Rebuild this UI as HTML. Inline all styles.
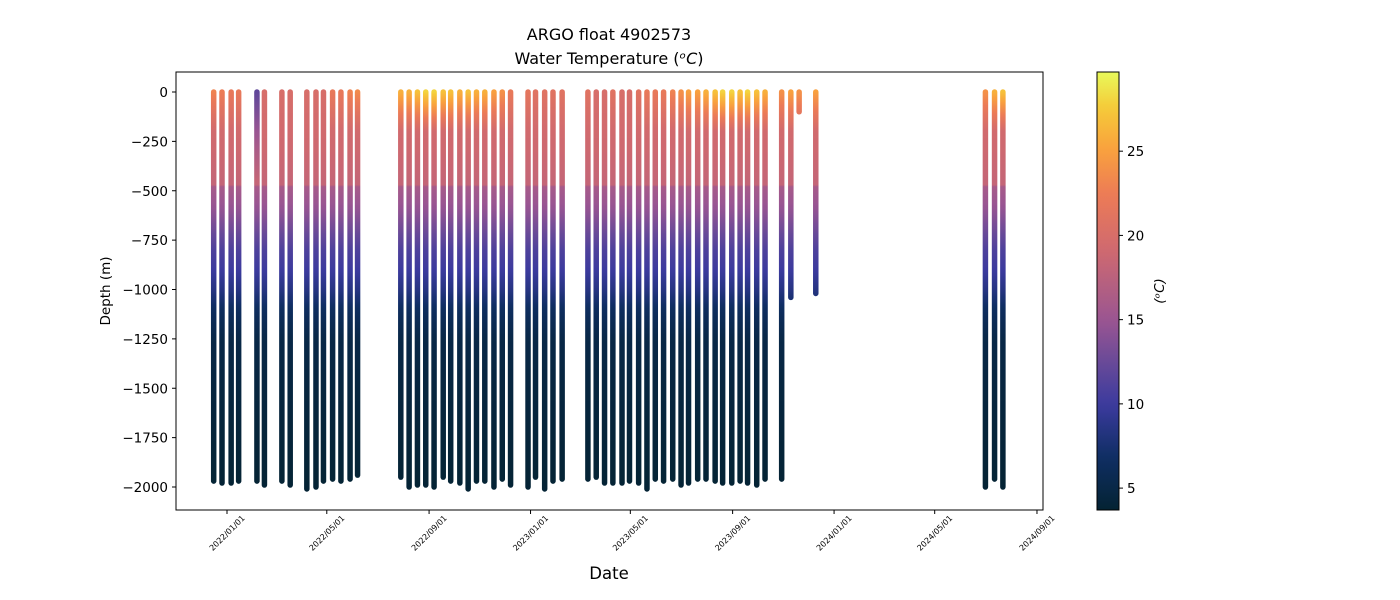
<!DOCTYPE html>
<html><head><meta charset="utf-8"><style>
body{margin:0;background:#fff;}
svg{display:block;font-family:"DejaVu Sans","Liberation Sans",sans-serif;}
</style></head><body>
<svg id="chart" width="1400" height="600" viewBox="0 0 1400 600" xmlns="http://www.w3.org/2000/svg">
<defs id="defs"></defs>
<text x="609" y="40" text-anchor="middle" font-size="16">ARGO float 4902573</text>
<text x="609" y="64" text-anchor="middle" font-size="16">Water Temperature (<tspan font-style="italic">ᵒC</tspan>)</text>
<g id="plot"></g>
<rect x="176" y="72" width="867" height="438" fill="none" stroke="#000" stroke-width="1"/>
<g id="yaxis"></g>
<g id="xaxis"></g>
<text transform="translate(110,291) rotate(-90)" text-anchor="middle" font-size="13.5">Depth (m)</text>
<text x="609" y="579" text-anchor="middle" font-size="16.5">Date</text>
<g id="cbar"></g>
<text transform="translate(1164,291) rotate(-90)" text-anchor="middle" font-size="13.5" font-style="italic">(ᵒC)</text>
</svg>
<script>
const profileDates=["2021-12-16","2021-12-26","2022-01-06","2022-01-15","2022-02-06","2022-02-15","2022-03-08","2022-03-18","2022-04-07","2022-04-18","2022-04-27","2022-05-08","2022-05-18","2022-05-29","2022-06-07","2022-07-29","2022-08-08","2022-08-18","2022-08-28","2022-09-07","2022-09-18","2022-09-27","2022-10-08","2022-10-18","2022-10-28","2022-11-07","2022-11-18","2022-11-28","2022-12-08","2022-12-29","2023-01-07","2023-01-18","2023-01-28","2023-02-08","2023-03-11","2023-03-21","2023-03-31","2023-04-10","2023-04-21","2023-04-30","2023-05-11","2023-05-21","2023-05-31","2023-06-10","2023-06-21","2023-07-01","2023-07-10","2023-07-21","2023-07-31","2023-08-11","2023-08-20","2023-08-31","2023-09-10","2023-09-19","2023-09-30","2023-10-10","2023-10-30","2023-11-10","2023-11-20","2023-12-10","2024-07-01","2024-07-12","2024-07-22"];
const maxDepths=[1970,1980,1980,1970,1970,1990,1970,1990,2010,2000,1970,1960,1970,1960,1940,1950,2000,1990,1990,2000,1950,1970,1980,2010,1970,1970,2000,1960,1990,2000,1950,2010,1970,1960,1960,1950,1980,1980,1980,1970,1980,2010,1960,1970,1960,1990,1980,1960,1960,1970,1980,1980,1970,1980,1990,1960,1960,1040,100,1020,2000,1960,2000];
const surfaceTemps=[23,22.5,22,22,12,20,20,20,20,20,20,22,22,23,23.5,26,26,27,28,28,27,27,26,27,26,26,25,24,22,21.5,21,21,21,21,21,20,20,21,20,20,21,22,22,22,23,24,25,25,26,27,28,28,27,28,27,26,24,25,24,25,24,26,27,25];
const baseDepths=[0,100,300,470,480,600,800,900,1000,1100,1250,1500,2000];
const baseTemps=[20,19.6,19,18.2,16,14.5,11,10,8.5,6.5,5,4.5,3.8];
const yTicks=[0,-250,-500,-750,-1000,-1250,-1500,-1750,-2000];
const xTicks=["2022/01/01","2022/05/01","2022/09/01","2023/01/01","2023/05/01","2023/09/01","2024/01/01","2024/05/01","2024/09/01"];
const cbTicks=[5,10,15,20,25];
const tMin=3.7,tMax=29.7;

const NS="http://www.w3.org/2000/svg";
function el(tag,attrs,parent){const e=document.createElementNS(NS,tag);for(const k in attrs)e.setAttribute(k,attrs[k]);parent.appendChild(e);return e;}
const day0=Date.UTC(2022,0,1);
function toDays(s){const p=s.split(/[-\/]/).map(Number);return (Date.UTC(p[0],p[1]-1,p[2])-day0)/86400000;}
const xScale=d=>227+toDays(d)*0.8316;
const yScale=v=>92-v*0.1975;
const cbScale=t=>510-(t-tMin)/(tMax-tMin)*438;
const cmap=[[0,"#042333"],[0.12,"#0f2e63"],[0.24,"#3b3a9e"],[0.34,"#6a4a98"],[0.43,"#995592"],[0.6,"#d16a6e"],[0.72,"#ec7b56"],[0.82,"#f9a03e"],[0.92,"#f5cb39"],[1,"#e8fa5b"]];
function hex(c){return [1,3,5].map(i=>parseInt(c.substr(i,2),16));}
function color(t){let f=Math.max(0,Math.min(1,(t-tMin)/(tMax-tMin)));for(let i=1;i<cmap.length;i++){if(f<=cmap[i][0]){const a=cmap[i-1],b=cmap[i];const u=(f-a[0])/(b[0]-a[0]);const ca=hex(a[1]),cb=hex(b[1]);return "rgb("+ca.map((v,j)=>Math.round(v+(cb[j]-v)*u)).join(",")+")";}}return cmap[cmap.length-1][1];}
function baseT(d){for(let i=1;i<baseDepths.length;i++){if(d<=baseDepths[i]){const u=(d-baseDepths[i-1])/(baseDepths[i]-baseDepths[i-1]);return baseTemps[i-1]+(baseTemps[i]-baseTemps[i-1])*u;}}return baseTemps[baseTemps.length-1];}
function tempAt(d,t0){const L=t0<18?450:200;return baseT(d)+(t0-baseTemps[0])*Math.max(0,1-d/L);}

const defs=document.getElementById('defs'),plot=document.getElementById('plot');
profileDates.forEach((dt,i)=>{
  const x=xScale(dt),md=maxDepths[i];
  const g=el('linearGradient',{id:'g'+i,gradientUnits:'userSpaceOnUse',x1:0,y1:yScale(0),x2:0,y2:yScale(-md)},defs);
  for(let d=0;d<=md;d+=10){el('stop',{offset:(d/md).toFixed(4),'stop-color':color(tempAt(d,surfaceTemps[i]))},g);}
  const ln=el('line',{x1:x,y1:yScale(0),x2:x,y2:yScale(-md),stroke:'url(#g'+i+')','stroke-width':5.5,'stroke-linecap':'round'},plot);
  
  
});
const ya=document.getElementById('yaxis');
yTicks.forEach(v=>{const y=yScale(v);
  el('line',{x1:172,y1:y,x2:176,y2:y,stroke:'#000'},ya);
  const t=el('text',{x:168,y:y+5,'text-anchor':'end','font-size':13.5},ya);
  t.textContent=(v<0?'\u2212':'')+Math.abs(v);
  
  
});
const xa=document.getElementById('xaxis');
xTicks.forEach(s=>{const x=xScale(s);
  el('line',{x1:x,y1:510,x2:x,y2:514,stroke:'#000'},xa);
  const t=el('text',{transform:'translate('+(x+2)+',535) rotate(-45)','text-anchor':'middle','font-size':8},xa);
  t.textContent=s;
  
  
});
const cb=document.getElementById('cbar');
const cg=el('linearGradient',{id:'cbg',x1:0,y1:1,x2:0,y2:0},defs);
for(let k=0;k<=40;k++){const t=tMin+(tMax-tMin)*k/40;el('stop',{offset:k/40,'stop-color':color(t)},cg);}
el('rect',{x:1097,y:72,width:22,height:438,fill:'url(#cbg)',stroke:'#000','stroke-width':1},cb);
cbTicks.forEach(v=>{const y=cbScale(v);
  el('line',{x1:1119,y1:y,x2:1123,y2:y,stroke:'#000'},cb);
  const t=el('text',{x:1127,y:y+5,'font-size':13.5},cb);
  t.textContent=v;
  
  
});
</script>
</body></html>
